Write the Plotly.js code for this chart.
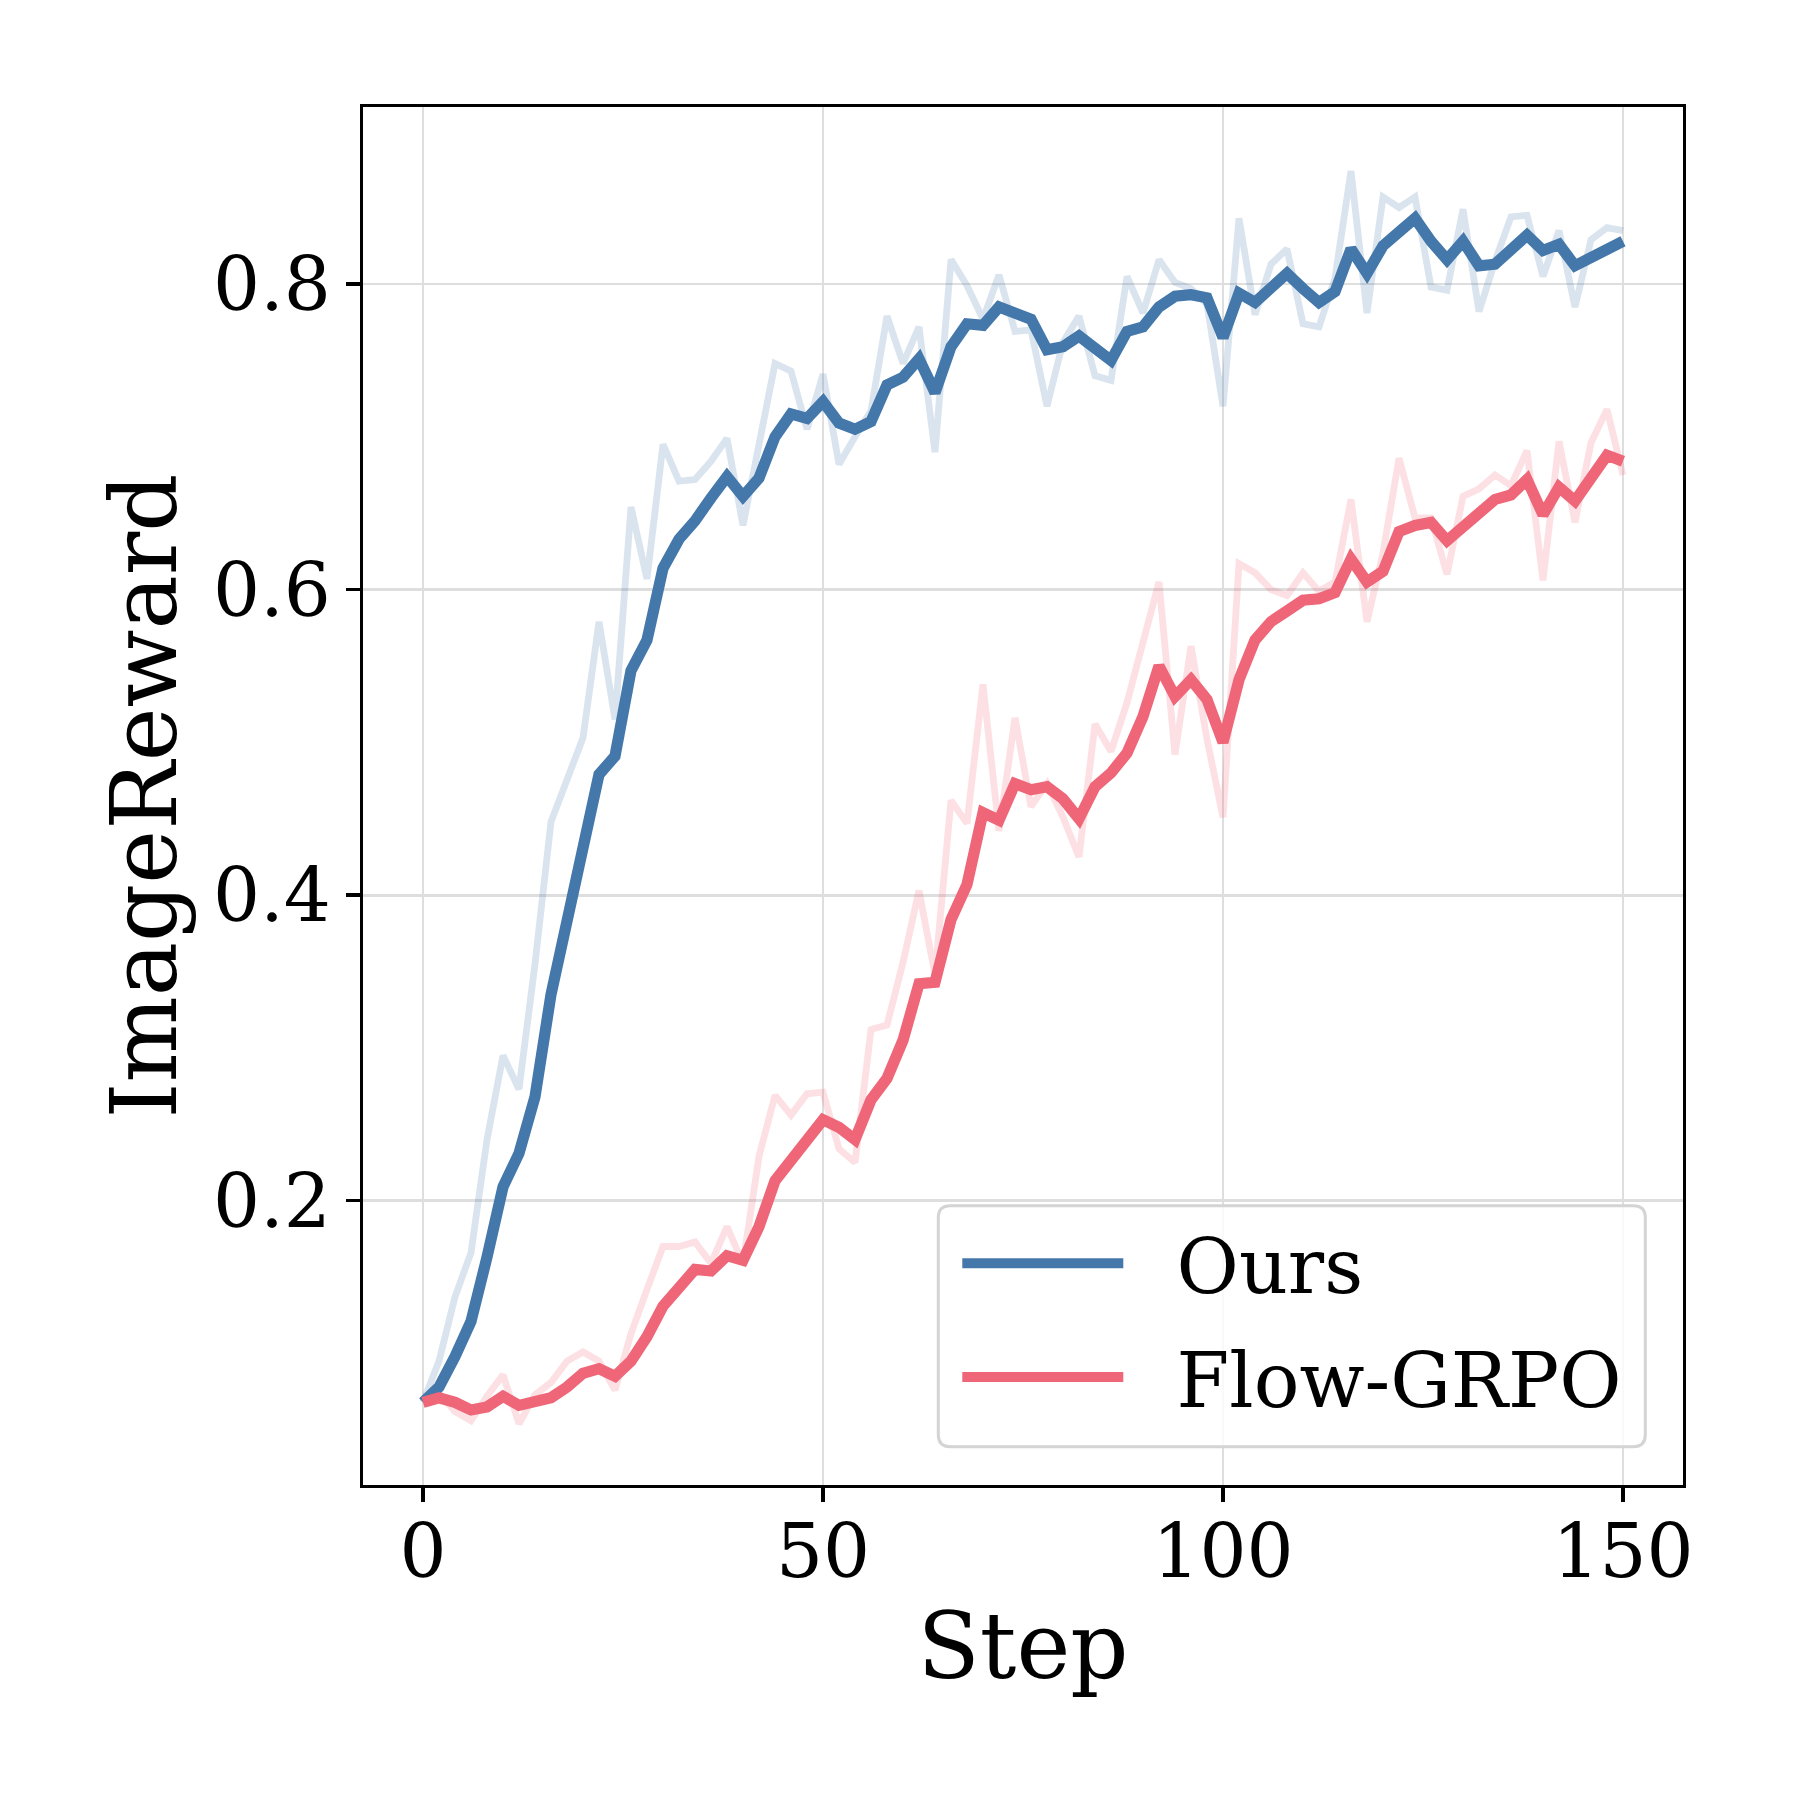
<!DOCTYPE html>
<html>
<head>
<meta charset="utf-8">
<script src="https://cdn.plot.ly/plotly-3.0.1.min.js"></script>
<style>html,body{margin:0;padding:0;background:#fff;}#chart{width:1800px;height:1800px;}</style>
</head>
<body>
<div id="chart"></div>
<script>
const steps = [0,2,4,6,8,10,12,14,16,18,20,22,24,26,28,30,32,34,36,38,40,42,44,46,48,50,52,54,56,58,60,62,64,66,68,70,72,74,76,78,80,82,84,86,88,90,92,94,96,98,100,102,104,106,108,110,112,114,116,118,120,122,124,126,128,130,132,134,136,138,140,142,144,146,148,150];

const oursRaw = [
0.068,0.095,0.137,0.166,0.240,0.295,0.273,0.355,0.448,0.475,
0.503,0.579,0.515,0.654,0.607,0.695,0.671,0.672,0.684,0.699,
0.642,0.695,0.748,0.743,0.705,0.741,0.682,0.700,0.717,0.779,
0.748,0.772,0.690,0.816,0.799,0.777,0.806,0.769,0.770,0.720,
0.762,0.779,0.740,0.737,0.805,0.781,0.816,0.801,0.797,0.787,
0.720,0.843,0.780,0.813,0.823,0.774,0.772,0.804,0.874,0.781,
0.857,0.850,0.857,0.798,0.796,0.849,0.782,0.815,0.844,0.845,
0.805,0.835,0.785,0.829,0.837,0.835];

const oursSmooth = [
0.068,0.078,0.098,0.121,0.163,0.209,0.231,0.268,0.335,0.385,
0.427,0.479,0.491,0.547,0.567,0.614,0.633,0.645,0.660,0.674,
0.661,0.673,0.700,0.715,0.712,0.723,0.709,0.705,0.710,0.734,
0.739,0.751,0.729,0.759,0.774,0.773,0.785,0.780,0.777,0.757,
0.759,0.766,0.757,0.750,0.769,0.772,0.785,0.792,0.793,0.791,
0.765,0.794,0.788,0.798,0.807,0.797,0.788,0.795,0.823,0.807,
0.825,0.834,0.843,0.828,0.816,0.828,0.812,0.813,0.823,0.832,
0.822,0.826,0.812,0.817,0.824,0.828];

const flowRaw = [
0.068,0.074,0.062,0.056,0.072,0.086,0.054,0.073,0.081,0.095,
0.101,0.095,0.076,0.113,0.142,0.170,0.170,0.173,0.159,0.183,
0.159,0.229,0.269,0.256,0.270,0.271,0.234,0.225,0.312,0.315,
0.356,0.403,0.348,0.462,0.447,0.538,0.442,0.516,0.458,0.473,
0.451,0.425,0.512,0.494,0.526,0.564,0.605,0.492,0.563,0.502,
0.451,0.617,0.611,0.600,0.596,0.611,0.599,0.605,0.659,0.579,
0.624,0.686,0.647,0.647,0.610,0.661,0.666,0.675,0.668,0.691,
0.606,0.697,0.644,0.696,0.718,0.675];

const flowSmooth = [
0.068,0.071,0.068,0.063,0.065,0.072,0.066,0.068,0.071,0.078,
0.087,0.090,0.085,0.095,0.111,0.131,0.144,0.155,0.154,0.164,
0.161,0.183,0.213,0.227,0.242,0.253,0.248,0.240,0.266,0.280,
0.305,0.342,0.343,0.384,0.407,0.454,0.449,0.473,0.469,0.471,
0.463,0.450,0.471,0.480,0.493,0.517,0.550,0.530,0.541,0.528,
0.500,0.541,0.567,0.579,0.586,0.593,0.594,0.598,0.620,0.605,
0.612,0.638,0.642,0.644,0.632,0.641,0.649,0.659,0.662,0.672,
0.649,0.667,0.658,0.672,0.688,0.684];

const seriesNames = ["Ours", "Flow-GRPO"];
const xTicks = [0, 50, 100, 150];
const yTicks = [0.2, 0.4, 0.6, 0.8];

const BLUE = "#4477AA", RED = "#EE6677";
const FONT = "DejaVu Serif, Liberation Serif, serif";
const PAD = "\u00a0\u00a0";

const traces = [
  {x: steps, y: oursRaw, mode: "lines", line: {color: BLUE, width: 6.8}, opacity: 0.2, showlegend: false, hoverinfo: "skip"},
  {x: steps, y: flowRaw, mode: "lines", line: {color: RED, width: 6.8}, opacity: 0.2, showlegend: false, hoverinfo: "skip"},
  {x: steps, y: oursSmooth, mode: "lines", name: PAD + seriesNames[0], legendgroup: "a", line: {color: BLUE, width: 11.2}},
  {x: steps, y: flowSmooth, mode: "lines", name: PAD + seriesNames[1], legendgroup: "b", line: {color: RED, width: 11.2}}
];

const px0 = 362.7, py0 = 106.7, pw = 1320, ph = 1378.6;
function pxX(v){ return (v - px0) / pw; }
function pxY(v){ return (py0 + ph - v) / ph; }
// rounded legend frame (decoration)
const bx0 = pxX(938), bx1 = pxX(1645), by0 = pxY(1447), by1 = pxY(1206);
const rx = 12 / pw, ry = 12 / ph;
const framePath = `M ${bx0+rx},${by0} L ${bx1-rx},${by0} Q ${bx1},${by0} ${bx1},${by0+ry} L ${bx1},${by1-ry} Q ${bx1},${by1} ${bx1-rx},${by1} L ${bx0+rx},${by1} Q ${bx0},${by1} ${bx0},${by1-ry} L ${bx0},${by0+ry} Q ${bx0},${by0} ${bx0+rx},${by0} Z`;

const axisCommon = {
  showline: true, mirror: true, linecolor: "#000", linewidth: 3.4,
  ticks: "outside", ticklen: 14, tickwidth: 3.4, tickcolor: "#000",
  showgrid: true, gridcolor: "#dedede", gridwidth: 2.8,
  zeroline: false,
  tickfont: {family: FONT, size: 74, color: "#000"}
};

const layout = {
  width: 1800, height: 1800,
  paper_bgcolor: "#fff", plot_bgcolor: "#fff",
  margin: {l: 362.7, r: 117.3, t: 106.7, b: 314.7, pad: 0},
  xaxis: Object.assign({}, axisCommon, {
    range: [-7.5, 157.5], tickvals: xTicks, ticktext: xTicks.map(String),
    ticklabelstandoff: -14,
    title: {text: "Step", font: {family: FONT, size: 91, color: "#000"}, standoff: 22}
  }),
  yaxis: Object.assign({}, axisCommon, {
    range: [0.0139, 0.9159], tickvals: yTicks, ticktext: yTicks.map(v => v.toFixed(1)),
    title: {text: "ImageReward", font: {family: FONT, size: 91, color: "#000"}, standoff: 7}
  }),
  legend: {
    x: pxX(957), y: pxY(1207.5), xanchor: "left", yanchor: "top",
    bgcolor: "rgba(0,0,0,0)", borderwidth: 0,
    font: {family: FONT, size: 76, color: "#000"},
    itemwidth: 161, tracegroupgap: 12
  },
  shapes: [{type: "path", xref: "paper", yref: "paper", path: framePath,
    line: {color: "#d4d4d4", width: 3}, fillcolor: "rgba(255,255,255,0.8)", layer: "above"}],
  showlegend: true
};

Plotly.newPlot("chart", traces, layout, {staticPlot: true, displayModeBar: false});
</script>
</body>
</html>
